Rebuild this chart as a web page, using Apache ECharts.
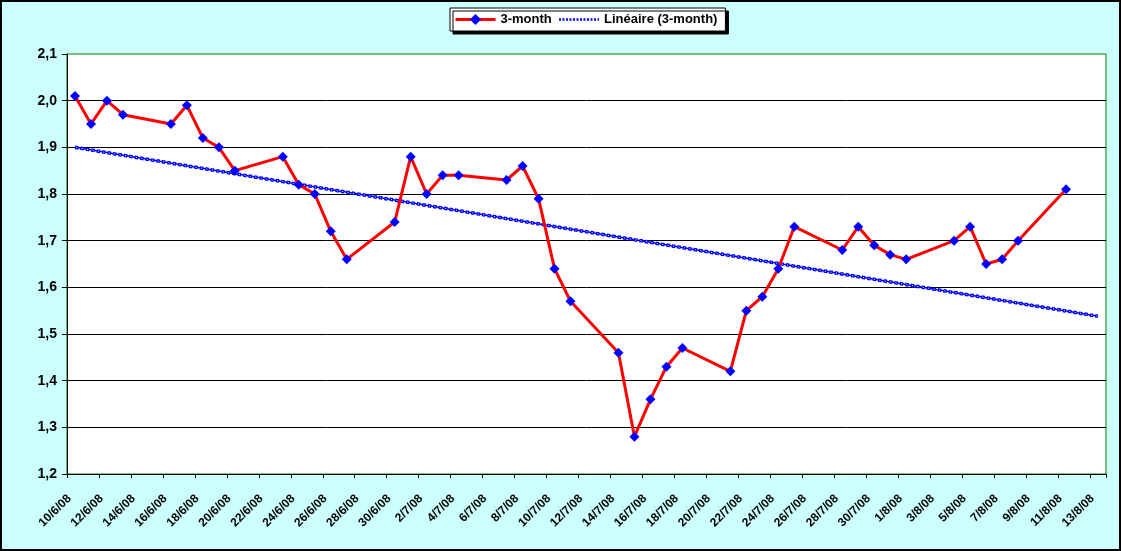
<!DOCTYPE html>
<html><head><meta charset="utf-8">
<script src="https://cdn.jsdelivr.net/npm/echarts@6.0.0/dist/echarts.min.js"></script>
<style>html,body{margin:0;padding:0;background:#CCFFFF}#c{width:1121px;height:551px}</style>
</head><body><div id="c"></div>
<script>
const categories = [
'10/6/08','11/6/08','12/6/08','13/6/08','14/6/08','15/6/08','16/6/08','17/6/08','18/6/08','19/6/08',
'20/6/08','21/6/08','22/6/08','23/6/08','24/6/08','25/6/08','26/6/08','27/6/08','28/6/08','29/6/08','30/6/08',
'1/7/08','2/7/08','3/7/08','4/7/08','5/7/08','6/7/08','7/7/08','8/7/08','9/7/08','10/7/08',
'11/7/08','12/7/08','13/7/08','14/7/08','15/7/08','16/7/08','17/7/08','18/7/08','19/7/08','20/7/08',
'21/7/08','22/7/08','23/7/08','24/7/08','25/7/08','26/7/08','27/7/08','28/7/08','29/7/08','30/7/08','31/7/08',
'1/8/08','2/8/08','3/8/08','4/8/08','5/8/08','6/8/08','7/8/08','8/8/08','9/8/08','10/8/08',
'11/8/08','12/8/08','13/8/08'];
const obsDates = [
'10/6/08','11/6/08','12/6/08','13/6/08','16/6/08','17/6/08','18/6/08','19/6/08','20/6/08',
'23/6/08','24/6/08','25/6/08','26/6/08','27/6/08','30/6/08',
'1/7/08','2/7/08','3/7/08','4/7/08','7/7/08','8/7/08','9/7/08','10/7/08','11/7/08',
'14/7/08','15/7/08','16/7/08','17/7/08','18/7/08','21/7/08','22/7/08','23/7/08','24/7/08','25/7/08',
'28/7/08','29/7/08','30/7/08','31/7/08','1/8/08','4/8/08','5/8/08','6/8/08','7/8/08','8/8/08','11/8/08'];
const values3m = [
2.01,1.95,2.00,1.97,1.95,1.99,1.92,1.90,1.85,
1.88,1.82,1.80,1.72,1.66,1.74,
1.88,1.80,1.84,1.84,1.83,1.86,1.79,1.64,1.57,
1.46,1.28,1.36,1.43,1.47,1.42,1.55,1.58,1.64,1.73,
1.68,1.73,1.69,1.67,1.66,1.70,1.73,1.65,1.66,1.70,1.81];
const trendDates = ['10/6/08','13/8/08'];
const trendValues = [1.900, 1.538];
const seriesNames = ['3-month', 'Linéaire (3-month)'];
const yMin = 1.2, yMax = 2.1, yStep = 0.1;

const chart = echarts.init(document.getElementById('c'), null, {renderer:'canvas'});
const FONT = 'Liberation Sans, Arial, sans-serif';
const mainData = obsDates.map((d,i)=>[d, values3m[i]]);
const trendData = trendDates.map((d,i)=>[d, trendValues[i]]);
chart.setOption({
  backgroundColor: '#CCFFFF',
  animation: false,
  graphic: [
    {type:'rect', z:100, shape:{x:1, y:1, width:1119, height:549}, style:{fill:null, stroke:'#000', lineWidth:2}, silent:true}
  ],
  legend: {
    data: [
      {name: seriesNames[0], lineStyle: {width: 3}},
      {name: seriesNames[1], itemStyle: {opacity: 0}, lineStyle: {width: 2.5, type: [2, 1.5], color: '#0000FF'}}
    ],
    left: 450, top: 8,
    padding: [5, 8, 5, 4],
    itemWidth: 40, itemHeight: 14, itemGap: 6,
    backgroundColor: '#fff', borderColor: '#000', borderWidth: 1,
    shadowColor: '#000', shadowBlur: 0, shadowOffsetX: 3, shadowOffsetY: 3,
    textStyle: {fontFamily: FONT, fontSize: 13, fontWeight: 'bold', color: '#000'},
    z: 5
  },
  grid: {
    left: 67, right: 15, top: 54, bottom: 77,
    show: true, backgroundColor: '#fff', borderColor: '#008000', borderWidth: 1,
    containLabel: false
  },
  xAxis: {
    type: 'category',
    data: categories,
    boundaryGap: true,
    axisLine: {show: true, lineStyle: {color: '#000', width: 1}},
    axisTick: {show: true, interval: 1, length: 4, lineStyle: {color: '#000'}},
    axisLabel: {interval: 1, rotate: 45, margin: 17, padding: [0, 8, 0, 0],
      fontFamily: FONT, fontSize: 12, fontWeight: 'bold', color: '#000'},
    splitLine: {show: false}
  },
  yAxis: {
    type: 'value',
    min: yMin, max: yMax, interval: yStep,
    axisLine: {show: true, lineStyle: {color: '#000', width: 1}},
    axisTick: {show: true, inside: false, length: 5, lineStyle: {color: '#000'}},
    axisLabel: {margin: 10, fontFamily: FONT, fontSize: 14, fontWeight: 'bold', color: '#000',
      formatter: v => v.toFixed(1).replace('.', ',')},
    splitLine: {show: true, showMaxLine: false, lineStyle: {color: '#000', width: 1}}
  },
  series: [
    {
      name: seriesNames[1], type: 'line', data: trendData, symbol: 'none', z: 2,
      lineStyle: {color: '#0000FF', width: 1.5}, itemStyle: {color: '#0000FF'}
    },
    {
      name: 'trend-squares', type: 'line', data: trendData, symbol: 'none', z: 2, silent: true,
      lineStyle: {color: '#0000FF', width: 3.5, type: [3.5, 2]}
    },
    {
      name: 'trend-holes', type: 'line', data: trendData, symbol: 'none', z: 3, silent: true,
      lineStyle: {color: '#ffffff', width: 1, type: [1, 4.5], dashOffset: -1.25}
    },
    {
      name: seriesNames[0], type: 'line', data: mainData, z: 4,
      symbol: 'diamond', symbolSize: 10,
      lineStyle: {color: '#FF0000', width: 3},
      itemStyle: {color: '#0000FF'}
    }
  ]
});
</script></body></html>
